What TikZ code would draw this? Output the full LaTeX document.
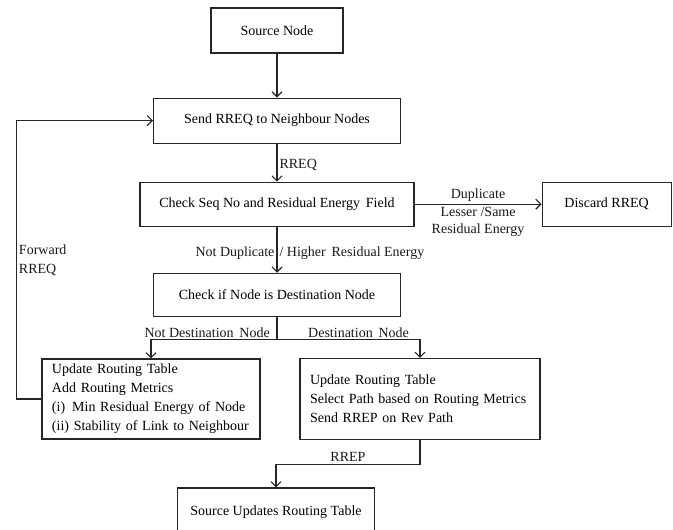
\documentclass[tikz,border=0pt]{standalone}
\usepackage{fontspec}
\setmainfont{Liberation Serif}
\usetikzlibrary{positioning,arrows.meta}

\begin{document}
\begin{tikzpicture}[x=1pt,y=1pt,
        font=\fontsize{14}{19}\selectfont,
        box/.style={draw=black!85,rectangle,line width=1.1pt,minimum height=44pt,inner sep=0pt},
        listbox/.style={box,inner xsep=10pt,align=left},
        arr/.style={-{Straight Barb[length=5pt,width=10pt]},draw=black!85,line width=1.1pt},
        lbl/.style={inner sep=2pt,text=black!90}]
    \useasboundingbox (0,0) rectangle (673,-530);
    % main column
    \node (src) [box,minimum width=132pt,minimum height=45pt] at (277,-30.5) {Source Node};
    \node (send) [box,minimum width=247pt,minimum height=45pt,below=44pt of src] {Send RREQ to Neighbour Nodes};
    \node (chk) [box,minimum width=274pt,below=38pt of send] {Check Seq No and Residual Energy\, Field};
    \node (discard) [box,minimum width=129pt,right=127pt of chk] {Discard RREQ};
    \node (dest) [box,minimum width=247pt,minimum height=43pt,below=46pt of chk] {Check if Node is Destination Node};
    \node (upd) [listbox,text width=198pt,minimum height=80pt] at (151,-399) {Update Routing Table \\ Add Routing Metrics \\ (i)\, Min Residual Energy of Node \\ (ii) Stability of Link to Neighbour};
    \node (sel) [listbox,text width=220pt,minimum height=81pt] at (420,-399) {Update Routing Table \\ Select Path based on Routing Metrics \\ Send RREP on Rev Path};
    \node (srcupd) [box,minimum width=197pt,minimum height=48pt] at (276,-512) {Source Updates Routing Table};

    % connectors
    \draw [arr] (src) -- (send);
    \draw [arr] (send) -- node [lbl,pos=0.55,right] {RREQ} (chk);
    \draw [arr] (chk) -- node [lbl,above] {Duplicate}
        node [lbl,below,align=center,font=\fontsize{14}{17}\selectfont] {Lesser /Same \\ Residual Energy} (discard);
    \draw [arr] (chk) -- node [lbl,pos=0.57,left] {Not Duplicate}
        node [lbl,pos=0.57,right] {/ Higher\, Residual Energy} (dest);
    \draw [draw=black!85,line width=1.1pt] (dest.south) -- ++(0,-23) coordinate (split);
    \draw [arr] (split) -| (upd.north);
    \draw [arr] (split) -| (sel.north);
    \node [lbl,anchor=south east] at ([xshift=-5pt]split) {Not Destination\, Node};
    \node [lbl,anchor=south west] at ([xshift=29pt]split) {Destination\, Node};
    \draw [arr] (upd.west) -- ++(-25,0) |- node [lbl,pos=0.25,right,align=left] {Forward \\ RREQ} (send.west);
    \draw [arr] (sel.south) -- ++(0,-24) -| node [lbl,pos=0.25,above] {RREP} (srcupd.north);
\end{tikzpicture}
\end{document}
